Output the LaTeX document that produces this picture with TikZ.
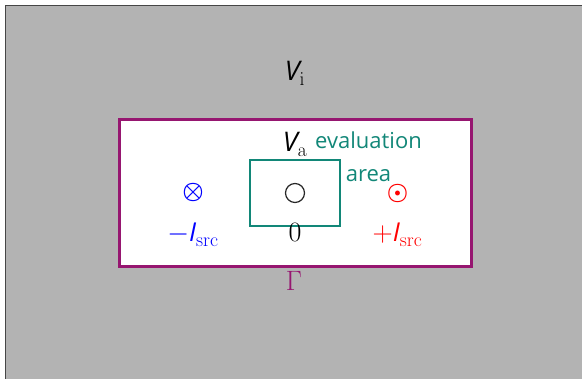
\RequirePackage{fix-cm}
\documentclass[tikz,border=0pt]{standalone}
\usepackage[no-math]{fontspec}
\newfontfamily\sansf{Open Sans}
\definecolor{bggray}{RGB}{179,179,179}
\definecolor{bordergray}{RGB}{70,70,70}
\definecolor{gammacol}{RGB}{150,22,112}
\definecolor{evalcol}{RGB}{18,135,120}
\definecolor{probecol}{RGB}{40,40,40}
\newcommand{\sfV}{\mbox{\fontsize{27}{30}\selectfont\sansf\itshape V}}
\newcommand{\sfI}{\mbox{\fontsize{26}{30}\selectfont\sansf\itshape I}}
\begin{document}
\begin{tikzpicture}[x=1pt,y=-1pt,
  every node/.style={inner sep=0pt, outer sep=0pt, font=\fontsize{28}{32}\selectfont},
  boxstyle/.style={rectangle, draw=#1},
  labelstyle/.style={anchor=base},
  currentsym/.style={font=\fontsize{24}{28}\selectfont\boldmath}]
\useasboundingbox (0,0) rectangle (582,379);
\clip (0,0) rectangle (582,379);
\draw[fill=bggray, draw=bordergray, line width=1.5] (5.5,5.5) rectangle (600,400);
\node[boxstyle=gammacol, fill=white, line width=3, minimum width=352, minimum height=147] (domain) at (295.5,193) {};
\node[boxstyle=evalcol, line width=2, minimum width=90, minimum height=66] (evalbox) at (295,193) {};
\node[circle, draw=probecol, line width=1.2, minimum size=19] (probe) at (295,193) {};
\node[labelstyle] (Vi) at (295,81) {$\sfV_{\mathrm{i}}$};
\node[labelstyle] (Va) at (295,152) {$\sfV_{\mathrm{a}}$};
\node[align=center, text=evalcol, font=\fontsize{22}{33}\selectfont\sansf] (evallabel) at (368.5,156.5) {evaluation\\area};
\node[currentsym, text=blue] (sink) at (193,193) {$\otimes$};
\node[currentsym, text=red] (source) at (397.5,193.5) {$\odot$};
\node[labelstyle, text=blue] (minus) at (193,242) {$-\sfI_{\mathrm{src}}$};
\node[labelstyle, text=red] (plus) at (397.5,242) {$+\sfI_{\mathrm{src}}$};
\node[labelstyle] (zero) at (295,242) {$0$};
\node[labelstyle, text=gammacol] (Gamma) at (294,291) {$\Gamma$};
\end{tikzpicture}
\end{document}
